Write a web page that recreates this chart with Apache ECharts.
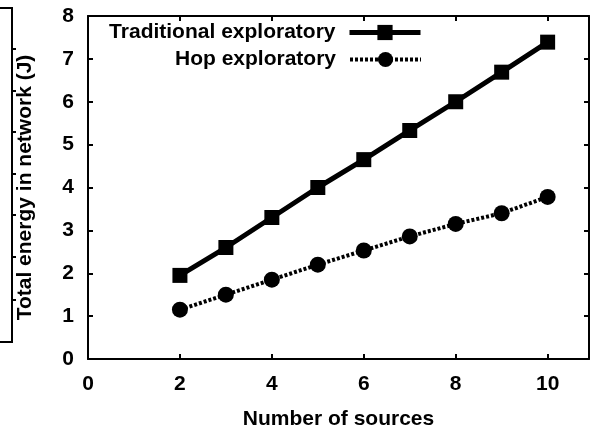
<!DOCTYPE html>
<html>
<head>
  <meta charset="UTF-8">
  <title>Total energy vs number of sources</title>
  <style>
    html, body {
      height: 100%;
      width: 100%;
      margin: 0;
      padding: 0;
      background: #fff;
    }
  </style>
  <script src="https://cdn.jsdelivr.net/npm/echarts@6/dist/echarts.min.js"></script>
</head>
<body>
<div id="main" style="width: 590px; height: 431px;"></div>

<script>
  // data
  var sources = [2, 3, 4, 5, 6, 7, 8, 9, 10];
  var traditional = [1.95, 2.6, 3.3, 4.0, 4.65, 5.33, 6.0, 6.69, 7.39];
  var hop = [1.15, 1.5, 1.85, 2.2, 2.53, 2.86, 3.15, 3.4, 3.78];
  var seriesNames = ['Traditional exploratory', 'Hop exploratory'];

  function pairs(xs, ys) {
    return xs.map(function (x, i) { return [x, ys[i]]; });
  }

  var chartDom = document.getElementById('main');
  var myChart = echarts.init(chartDom);

  var font = 'Liberation Sans, Arial, sans-serif';
  var black = '#000';

  // frame piece of the neighbouring figure on the left edge
  var frag = [];
  var fragTicks = [49, 91, 132, 174, 215, 257, 300];
  fragTicks.forEach(function (y) {
    frag.push({ type: 'line', shape: { x1: 12, y1: y, x2: 16, y2: y }, style: { stroke: black, lineWidth: 2 } });
  });
  frag.push({
    type: 'polyline',
    shape: { points: [[0, 8], [12, 8], [12, 342], [0, 342]] },
    style: { stroke: black, lineWidth: 2, fill: null }
  });

  var legendBase = {
    right: 167,
    padding: 0,
    align: 'right',
    itemWidth: 71,
    itemHeight: 19,
    selectedMode: false,
    lineStyle: { width: 'inherit', type: 'inherit' },
    textStyle: { fontFamily: font, fontSize: 21, fontWeight: 'bold', color: black, padding: [0, 9, 0, 0] }
  };

  function frameAxis(pos, max, interval) {
    return {
      type: 'value', min: 0, max: max, interval: interval, position: pos,
      axisLine: { show: true, onZero: false, lineStyle: { color: black, width: 2 } },
      axisTick: { inside: true, length: 5, lineStyle: { color: black, width: 2 } },
      axisLabel: { show: false },
      splitLine: { show: false }
    };
  }

  var option = {
    animation: false,
    backgroundColor: '#fff',
    graphic: frag,
    legend: [
      Object.assign({}, legendBase, { top: 22, data: [seriesNames[0]] }),
      Object.assign({}, legendBase, { top: 49, data: [seriesNames[1]] })
    ],
    grid: { left: 88, right: 1, top: 16, bottom: 72, outerBoundsMode: 'none', containLabel: false },
    xAxis: [
      {
        type: 'value', min: 0, max: 10.9, interval: 2,
        name: 'Number of sources', nameLocation: 'middle', nameGap: 50,
        nameTextStyle: { fontFamily: font, fontSize: 21, fontWeight: 'bold', color: black },
        axisLine: { show: true, onZero: false, lineStyle: { color: black, width: 2 } },
        axisTick: { inside: true, length: 5, lineStyle: { color: black, width: 2 } },
        axisLabel: {
          margin: 15, fontFamily: font, fontSize: 21, fontWeight: 'bold', color: black,
          formatter: function (v) { return v % 2 === 0 ? String(v) : ''; }
        },
        splitLine: { show: false }
      },
      frameAxis('top', 10.9, 2)
    ],
    yAxis: [
      {
        type: 'value', min: 0, max: 8, interval: 1,
        name: 'Total energy in network (J)', nameLocation: 'middle', nameGap: 52,
        nameTextStyle: { fontFamily: font, fontSize: 21, fontWeight: 'bold', color: black },
        axisLine: { show: true, onZero: false, lineStyle: { color: black, width: 2 } },
        axisTick: { inside: true, length: 5, lineStyle: { color: black, width: 2 } },
        axisLabel: { margin: 14, fontFamily: font, fontSize: 21, fontWeight: 'bold', color: black },
        splitLine: { show: false }
      },
      frameAxis('right', 8, 1)
    ],
    series: [
      {
        name: seriesNames[0],
        type: 'line',
        data: pairs(sources, traditional),
        symbol: 'rect',
        symbolSize: 15,
        itemStyle: { color: black },
        lineStyle: { color: black, width: 5, type: 'solid' }
      },
      {
        name: seriesNames[1],
        type: 'line',
        data: pairs(sources, hop),
        symbol: 'circle',
        symbolSize: 16,
        itemStyle: { color: black },
        lineStyle: { color: black, width: 4, type: [3, 2] }
      }
    ]
  };

  myChart.setOption(option);
</script>
</body>
</html>
